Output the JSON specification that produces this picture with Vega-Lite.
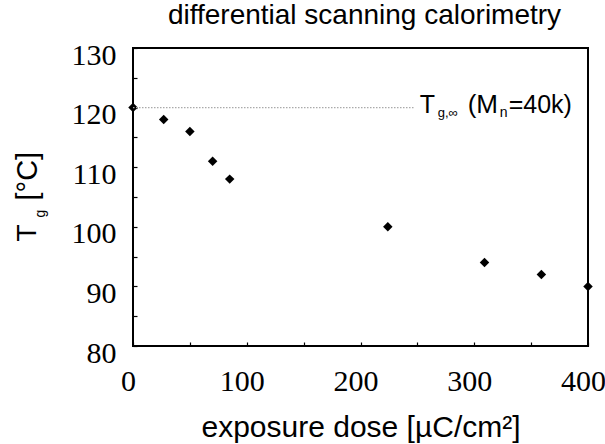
{
  "$schema": "https://vega.github.io/schema/vega-lite/v6.json",
  "autosize": "none",
  "width": 455,
  "height": 298,
  "padding": {"left": 133, "top": 48, "right": 17, "bottom": 98},
  "background": "white",
  "config": {
    "view": {"stroke": "black", "strokeWidth": 2},
    "axis": {"grid": false, "domain": false}
  },
  "title": {
    "text": "differential scanning calorimetry",
    "font": "Liberation Sans",
    "fontSize": 28,
    "fontWeight": "normal",
    "color": "black",
    "anchor": "middle",
    "baseline": "bottom",
    "offset": 19,
    "dx": 4,
    "dy": 37
  },
  "data": {"values": [{}]},
  "datasets": {
    "dsc": [
      {"dose": 0, "tg": 120},
      {"dose": 27, "tg": 118},
      {"dose": 50, "tg": 116},
      {"dose": 70, "tg": 111},
      {"dose": 85, "tg": 108},
      {"dose": 224, "tg": 100},
      {"dose": 309, "tg": 94},
      {"dose": 359, "tg": 92},
      {"dose": 400, "tg": 90}
    ]
  },
  "resolve": {"axis": {"y": "independent"}},
  "layer": [
    {
      "data": {"name": "dsc"},
      "mark": {"type": "point", "shape": "diamond", "filled": true, "color": "black", "size": 90, "opacity": 1, "clip": false},
      "encoding": {
        "x": {
          "field": "dose", "type": "quantitative",
          "scale": {"domain": [0, 400], "nice": false, "zero": false},
          "axis": {
            "orient": "bottom",
            "values": [0, 50, 100, 150, 200, 250, 300, 350, 400],
            "labelExpr": "datum.value % 100 == 0 ? datum.label : ''",
            "tickSize": -4, "tickColor": "black", "tickWidth": 1.2,
            "labelFont": "Liberation Serif", "labelFontSize": 30, "labelColor": "black",
            "labelBaseline": "alphabetic", "labelPadding": 48, "labelOffset": -5,
            "labelFlush": false, "labelOverlap": false,
            "title": "exposure dose [µC/cm²]",
            "titleFont": "Liberation Sans", "titleFontSize": 30, "titleFontWeight": "normal",
            "titleColor": "black", "titleBaseline": "alphabetic", "titleY": 90
          }
        },
        "y": {
          "field": "tg", "type": "quantitative",
          "scale": {"domain": [80, 130], "nice": false, "zero": false},
          "axis": {
            "orient": "left",
            "values": [80, 85, 90, 95, 100, 105, 110, 115, 120, 125, 130],
            "labelExpr": "datum.value % 10 == 0 ? datum.label : ''",
            "tickSize": -4, "tickColor": "black", "tickWidth": 1.2,
            "labelFont": "Liberation Serif", "labelFontSize": 30, "labelColor": "black",
            "labelPadding": 21, "labelOffset": 7, "labelOverlap": false, "labelFlush": false,
            "title": "T",
            "titleFont": "Liberation Sans", "titleFontSize": 28, "titleFontWeight": "normal",
            "titleColor": "black", "titleAngle": -90, "titleAlign": "left",
            "titleBaseline": "alphabetic", "titleX": -98, "titleY": 193
          }
        }
      }
    },
    {
      "mark": {"type": "rule", "color": "#aaaaaa", "strokeDash": [1.5, 1.5], "strokeWidth": 1.3},
      "encoding": {
        "x": {"datum": 0, "type": "quantitative"},
        "x2": {"datum": 247},
        "y": {
          "datum": 120, "type": "quantitative",
          "axis": {
            "orient": "left", "labels": false, "ticks": false, "domain": false,
            "title": "g",
            "titleFont": "Liberation Sans", "titleFontSize": 14, "titleFontWeight": "normal",
            "titleColor": "black", "titleAngle": -90, "titleAlign": "left",
            "titleBaseline": "alphabetic", "titleX": -89, "titleY": 169
          }
        }
      }
    },
    {
      "mark": {"type": "text", "text": "T", "font": "Liberation Sans", "fontSize": 25, "color": "black", "align": "left", "baseline": "alphabetic", "dy": 5.5},
      "encoding": {
        "x": {"datum": 252, "type": "quantitative"},
        "y": {
          "datum": 120, "type": "quantitative",
          "axis": {
            "orient": "left", "labels": false, "ticks": false, "domain": false,
            "title": "[°C]",
            "titleFont": "Liberation Sans", "titleFontSize": 29, "titleFontWeight": "normal",
            "titleColor": "black", "titleAngle": -90, "titleAlign": "left",
            "titleBaseline": "alphabetic", "titleX": -97, "titleY": 152
          }
        }
      }
    },
    {
      "mark": {"type": "text", "text": "g,∞", "font": "Liberation Sans", "fontSize": 13, "color": "black", "align": "left", "baseline": "alphabetic", "dx": 18, "dy": 9},
      "encoding": {
        "x": {"datum": 252, "type": "quantitative"},
        "y": {"datum": 120, "type": "quantitative", "axis": null}
      }
    },
    {
      "mark": {"type": "text", "text": "(M", "font": "Liberation Sans", "fontSize": 26, "color": "black", "align": "left", "baseline": "alphabetic", "dx": 48, "dy": 5.5},
      "encoding": {
        "x": {"datum": 252, "type": "quantitative"},
        "y": {"datum": 120, "type": "quantitative", "axis": null}
      }
    },
    {
      "mark": {"type": "text", "text": "n", "font": "Liberation Sans", "fontSize": 14, "color": "black", "align": "left", "baseline": "alphabetic", "dx": 80, "dy": 9},
      "encoding": {
        "x": {"datum": 252, "type": "quantitative"},
        "y": {"datum": 120, "type": "quantitative", "axis": null}
      }
    },
    {
      "mark": {"type": "text", "text": "=40k)", "font": "Liberation Sans", "fontSize": 25, "color": "black", "align": "left", "baseline": "alphabetic", "dx": 89, "dy": 5.5},
      "encoding": {
        "x": {"datum": 252, "type": "quantitative"},
        "y": {"datum": 120, "type": "quantitative", "axis": null}
      }
    }
  ]
}
